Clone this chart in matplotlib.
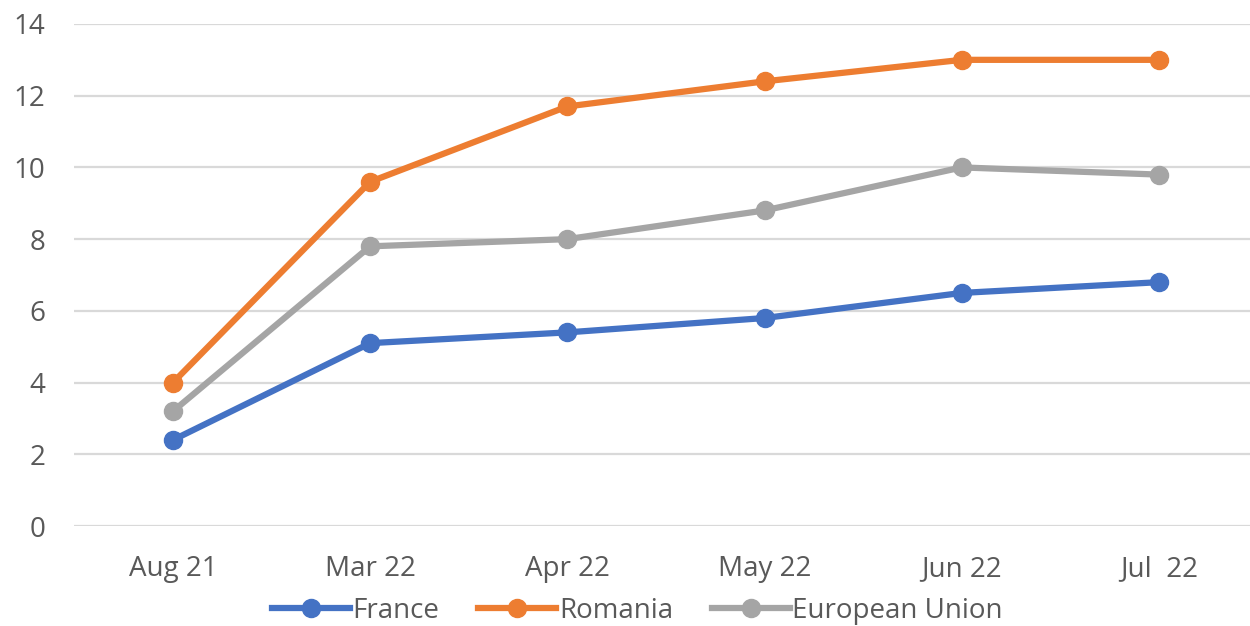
import matplotlib
matplotlib.use("Agg")
import matplotlib.pyplot as plt

# values
months = ["Aug 21", "Mar 22", "Apr 22", "May 22", "Jun 22", "Jul  22"]
france = [2.4, 5.1, 5.4, 5.8, 6.5, 6.8]
romania = [4.0, 9.6, 11.7, 12.4, 13.0, 13.0]
eu = [3.2, 7.8, 8.0, 8.8, 10.0, 9.8]
yticks = [0, 2, 4, 6, 8, 10, 12, 14]

plt.rcParams['font.family'] = ['Open Sans', 'DejaVu Sans']
text_col = '#595959'

fig = plt.figure(figsize=(12.5, 6.26), dpi=100)
ax = fig.add_axes([0.0595, 0.1597, 0.9465, 0.802])

x = range(len(months))
ax.plot(x, france, color='#4472C4', lw=4.5, marker='o', ms=13, label='France', zorder=3)
ax.plot(x, romania, color='#ED7D31', lw=4.5, marker='o', ms=13, label='Romania', zorder=3)
ax.plot(x, eu, color='#A5A5A5', lw=4.5, marker='o', ms=13, label='European Union', zorder=3)

ax.set_xlim(-0.5, len(months) - 0.5)
ax.set_ylim(0, 14)
ax.set_yticks(yticks)
ax.set_xticks(list(x))
ax.set_xticklabels(months)
ax.grid(axis='y', color='#D9D9D9', lw=1.6, zorder=0)
for s in ax.spines.values():
    s.set_visible(False)
ax.tick_params(axis='both', length=0, labelsize=20, labelcolor=text_col)
ax.tick_params(axis='y', pad=21)
ax.tick_params(axis='x', pad=21)

fig.legend(loc='center', bbox_to_anchor=(0.51, 0.024), ncol=3, frameon=False,
           fontsize=20, labelcolor=text_col, handlelength=2.8, handletextpad=0.1,
           columnspacing=1.4, borderpad=0)

fig.savefig('out.png', dpi=100)
